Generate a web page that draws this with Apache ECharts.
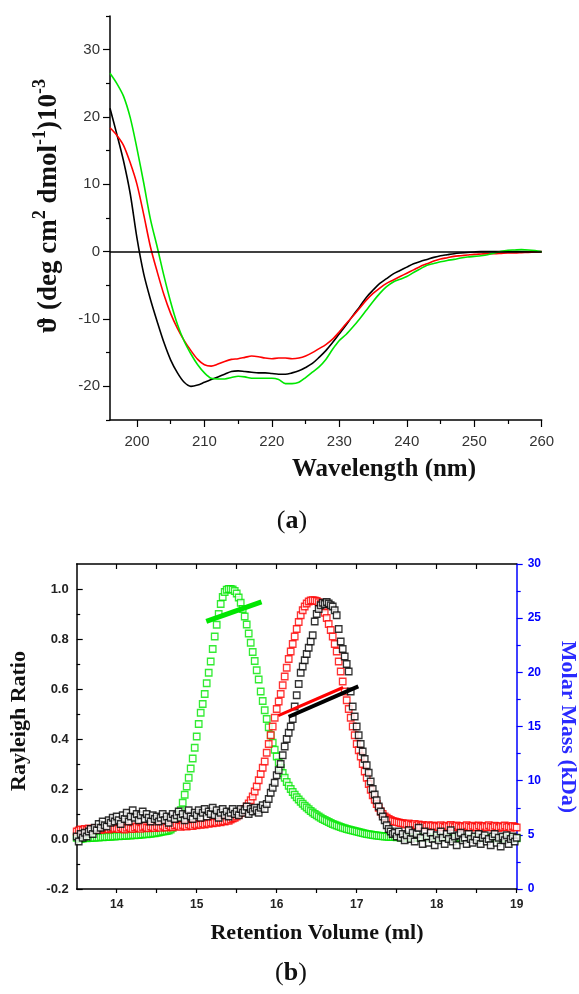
<!DOCTYPE html>
<html>
<head>
<meta charset="utf-8">
<script src="https://cdn.jsdelivr.net/npm/echarts@6.0.0/dist/echarts.min.js"></script>
<style>
  html, body { margin: 0; padding: 0; background: #fff; }
  #chart { width: 579px; height: 994px; }
</style>
</head>
<body>
<div id="chart"></div>
<script>
// ---------- (a) CD spectra: ellipticity (x10^-3) vs wavelength ----------
const wavelength = [196,197,198,199,200,201,202,203,204,205,206,207,208,209,210,211,212,213,214,215,
  216,217,218,219,220,221,222,223,224,225,226,227,228,229,230,231,232,233,234,235,
  236,237,238,239,240,241,242,243,244,245,246,247,248,249,250,251,252,253,254,255,
  256,257,258,259,260];

const cdBlack = [21.3,17.5,13.5,8.6,2.0,-3.3,-7.1,-10.4,-13.5,-16.1,-18.0,-19.4,-20.0,-19.8,-19.4,-19.0,-18.6,-18.2,-17.8,-17.7,
  -17.8,-17.9,-18.0,-18.0,-18.1,-18.2,-18.2,-18.0,-17.7,-17.2,-16.6,-15.7,-14.7,-13.5,-12.2,-10.9,-9.5,-8.2,-6.8,-5.7,
  -4.7,-4.0,-3.3,-2.8,-2.3,-1.8,-1.45,-1.15,-0.85,-0.6,-0.45,-0.3,-0.2,-0.12,-0.05,0,0,0,0,0,
  0,0,0,0,0];

const cdRed = [18.4,17.3,15.8,13.2,10.0,5.5,0.7,-3.0,-6.4,-9.2,-11.4,-13.2,-14.7,-16.0,-16.8,-17.0,-16.7,-16.3,-16.0,-15.9,
  -15.7,-15.5,-15.6,-15.8,-15.9,-15.8,-15.8,-15.9,-15.8,-15.5,-15.0,-14.4,-13.8,-13.0,-11.9,-10.7,-9.6,-8.4,-7.2,-6.2,
  -5.4,-4.7,-4.2,-3.7,-3.2,-2.7,-2.2,-1.8,-1.4,-1.1,-0.9,-0.7,-0.6,-0.5,-0.4,-0.35,-0.3,-0.3,-0.25,-0.2,
  -0.2,-0.15,-0.1,-0.05,0];

const cdGreen = [26.5,25.0,23.1,19.9,15.3,10.2,4.8,0.7,-3.6,-7.5,-10.8,-13.3,-15.2,-16.8,-18.0,-18.8,-18.9,-18.9,-18.7,-18.5,
  -18.6,-18.8,-18.8,-18.8,-18.8,-19.0,-19.6,-19.6,-19.4,-18.7,-17.9,-17.1,-16.0,-14.5,-13.2,-12.3,-11.2,-10.0,-8.7,-7.4,
  -6.2,-5.2,-4.5,-4.1,-3.7,-3.1,-2.55,-2.0,-1.75,-1.5,-1.3,-1.15,-0.95,-0.8,-0.7,-0.6,-0.45,-0.2,0.05,0.2,
  0.25,0.3,0.25,0.15,0];

const cdTicks = [200,210,220,230,240,250,260];
const cdMinorTicks = [205,215,225,235,245,255];
const thetaTicks = [-20,-10,0,10,20,30];
const thetaMinorTicks = [-25,-15,-5,5,15,25,35];

// ---------- (b) SEC-MALS: Rayleigh ratio and molar mass vs retention volume ----------
const volume = [
  13.5,13.525,13.55,13.575,13.6,13.625,13.65,13.675,13.7,13.725,13.75,13.775,13.8,13.825,13.85,13.875,13.9,13.925,13.95,13.975,
  14,14.025,14.05,14.075,14.1,14.125,14.15,14.175,14.2,14.225,14.25,14.275,14.3,14.325,14.35,14.375,14.4,14.425,14.45,14.475,
  14.5,14.525,14.55,14.575,14.6,14.625,14.65,14.675,14.7,14.725,14.75,14.775,14.8,14.825,14.85,14.875,14.9,14.925,14.95,14.975,
  15,15.025,15.05,15.075,15.1,15.125,15.15,15.175,15.2,15.225,15.25,15.275,15.3,15.325,15.35,15.375,15.4,15.425,15.45,15.475,
  15.5,15.525,15.55,15.575,15.6,15.625,15.65,15.675,15.7,15.725,15.75,15.775,15.8,15.825,15.85,15.875,15.9,15.925,15.95,15.975,
  16,16.025,16.05,16.075,16.1,16.125,16.15,16.175,16.2,16.225,16.25,16.275,16.3,16.325,16.35,16.375,16.4,16.425,16.45,16.475,
  16.5,16.525,16.55,16.575,16.6,16.625,16.65,16.675,16.7,16.725,16.75,16.775,16.8,16.825,16.85,16.875,16.9,16.925,16.95,16.975,
  17,17.025,17.05,17.075,17.1,17.125,17.15,17.175,17.2,17.225,17.25,17.275,17.3,17.325,17.35,17.375,17.4,17.425,17.45,17.475,
  17.5,17.525,17.55,17.575,17.6,17.625,17.65,17.675,17.7,17.725,17.75,17.775,17.8,17.825,17.85,17.875,17.9,17.925,17.95,17.975,
  18,18.025,18.05,18.075,18.1,18.125,18.15,18.175,18.2,18.225,18.25,18.275,18.3,18.325,18.35,18.375,18.4,18.425,18.45,18.475,
  18.5,18.525,18.55,18.575,18.6,18.625,18.65,18.675,18.7,18.725,18.75,18.775,18.8,18.825,18.85,18.875,18.9,18.925,18.95,18.975,
  19];

const rayleighGreen = [
  0.005,0.003,0.000,0.002,0.004,0.003,0.005,0.004,0.006,0.005,0.007,0.006,0.008,0.007,0.009,0.008,0.010,0.009,0.011,0.010,
  0.012,0.011,0.013,0.012,0.014,0.013,0.015,0.014,0.016,0.015,0.017,0.016,0.018,0.018,0.020,0.019,0.021,0.021,0.023,0.023,
  0.025,0.026,0.028,0.030,0.031,0.032,0.034,0.038,0.045,0.055,0.070,0.090,0.115,0.145,0.177,0.210,0.245,0.282,0.322,0.365,
  0.410,0.460,0.505,0.540,0.580,0.623,0.665,0.710,0.760,0.810,0.857,0.900,0.940,0.968,0.988,0.997,1.000,1.000,0.998,0.992,
  0.982,0.966,0.945,0.920,0.890,0.858,0.822,0.785,0.748,0.712,0.675,0.638,0.590,0.552,0.515,0.480,0.447,0.415,0.385,0.357,
  0.330,0.306,0.284,0.264,0.245,0.228,0.213,0.200,0.188,0.177,0.167,0.158,0.149,0.141,0.133,0.126,0.119,0.112,0.106,0.100,
  0.095,0.090,0.085,0.080,0.076,0.072,0.068,0.064,0.060,0.057,0.054,0.051,0.048,0.045,0.043,0.040,0.038,0.036,0.034,0.032,
  0.030,0.028,0.026,0.024,0.022,0.020,0.019,0.018,0.016,0.015,0.014,0.013,0.012,0.011,0.010,0.010,0.009,0.009,0.008,0.008,
  0.007,0.008,0.007,0.006,0.007,0.006,0.006,0.007,0.006,0.005,0.006,0.005,0.006,0.005,0.005,0.006,0.005,0.004,0.005,0.005,
  0.004,0.005,0.004,0.005,0.004,0.004,0.005,0.004,0.003,0.004,0.004,0.003,0.004,0.005,0.004,0.003,0.004,0.004,0.003,0.004,
  0.003,0.004,0.003,0.004,0.005,0.004,0.003,0.004,0.003,0.003,0.004,0.003,0.004,0.003,0.003,0.004,0.003,0.004,0.003,0.004,
  0.003];

const rayleighRed = [
  0.030,0.034,0.038,0.035,0.040,0.036,0.042,0.038,0.035,0.041,0.044,0.039,0.036,0.043,0.040,0.045,0.038,0.042,0.046,0.041,
  0.044,0.040,0.047,0.042,0.038,0.045,0.049,0.043,0.040,0.046,0.050,0.044,0.041,0.048,0.052,0.045,0.043,0.050,0.047,0.044,
  0.051,0.048,0.045,0.053,0.049,0.046,0.055,0.050,0.047,0.054,0.057,0.051,0.049,0.056,0.053,0.050,0.058,0.054,0.052,0.059,
  0.055,0.060,0.057,0.062,0.058,0.064,0.061,0.066,0.063,0.068,0.065,0.070,0.067,0.072,0.070,0.075,0.073,0.078,0.082,0.085,
  0.090,0.097,0.105,0.112,0.120,0.130,0.142,0.155,0.170,0.190,0.210,0.235,0.260,0.285,0.310,0.345,0.380,0.415,0.450,0.485,
  0.520,0.550,0.580,0.615,0.650,0.685,0.720,0.750,0.780,0.810,0.840,0.868,0.895,0.915,0.930,0.942,0.950,0.954,0.955,0.954,
  0.952,0.947,0.940,0.925,0.905,0.884,0.860,0.836,0.810,0.780,0.750,0.710,0.670,0.630,0.590,0.555,0.520,0.485,0.450,0.415,
  0.380,0.355,0.330,0.300,0.270,0.245,0.220,0.197,0.175,0.157,0.140,0.125,0.110,0.100,0.090,0.085,0.080,0.076,0.072,0.070,
  0.068,0.066,0.064,0.063,0.061,0.058,0.062,0.057,0.055,0.060,0.054,0.058,0.052,0.056,0.053,0.050,0.055,0.051,0.054,0.049,
  0.052,0.048,0.055,0.050,0.046,0.053,0.049,0.056,0.051,0.047,0.054,0.050,0.045,0.052,0.048,0.055,0.050,0.046,0.053,0.049,
  0.047,0.054,0.050,0.045,0.052,0.048,0.055,0.049,0.046,0.053,0.050,0.044,0.051,0.048,0.054,0.047,0.050,0.045,0.052,0.048,
  0.046];

const rayleighBlack = [
  0.010,-0.010,0.020,0.005,0.025,0.010,0.030,0.040,0.020,0.045,0.035,0.060,0.045,0.070,0.055,0.050,0.075,0.065,0.085,0.070,
  0.090,0.075,0.060,0.095,0.080,0.105,0.070,0.090,0.115,0.085,0.100,0.075,0.095,0.110,0.080,0.100,0.085,0.070,0.095,0.080,
  0.090,0.070,0.085,0.100,0.075,0.090,0.065,0.085,0.100,0.080,0.095,0.110,0.085,0.100,0.075,0.095,0.115,0.090,0.080,0.105,
  0.095,0.115,0.085,0.105,0.120,0.090,0.110,0.100,0.125,0.095,0.115,0.085,0.105,0.120,0.095,0.110,0.090,0.105,0.120,0.100,
  0.110,0.095,0.120,0.105,0.115,0.130,0.100,0.120,0.110,0.125,0.115,0.105,0.125,0.135,0.120,0.140,0.160,0.185,0.205,0.225,
  0.255,0.275,0.300,0.335,0.370,0.400,0.425,0.450,0.480,0.530,0.575,0.620,0.665,0.690,0.715,0.740,0.765,0.790,0.815,0.870,
  0.900,0.920,0.935,0.945,0.940,0.948,0.942,0.935,0.930,0.915,0.895,0.840,0.790,0.760,0.730,0.700,0.670,0.590,0.530,0.490,
  0.450,0.415,0.380,0.350,0.320,0.295,0.265,0.230,0.200,0.178,0.155,0.130,0.110,0.090,0.075,0.055,0.040,0.030,0.020,0.025,
  0.010,0.030,0.005,0.020,-0.005,0.015,0.035,0.000,0.025,-0.010,0.020,0.045,0.005,-0.020,0.030,0.010,-0.015,0.025,0.000,-0.025,
  0.015,-0.005,0.030,0.005,-0.020,0.020,0.000,0.035,-0.010,0.010,-0.025,0.015,0.025,-0.005,0.005,-0.020,0.020,0.000,-0.015,0.010,
  -0.005,0.020,-0.020,0.005,0.015,-0.010,0.000,-0.025,0.010,0.020,-0.015,0.005,-0.030,0.010,-0.005,0.015,-0.020,0.000,0.010,-0.010,
  0.005];

// molar mass (kDa) across each elution peak
const massGreenVol = [15.12, 15.81];
const massGreen = [24.7, 26.5];
const massRedVol = [16.02, 16.83];
const massRed = [16.0, 18.6];
const massBlackVol = [16.15, 17.02];
const massBlack = [15.9, 18.7];

const volTicks = [14,15,16,17,18,19];
const volHalfTicks = [14,14.5,15,15.5,16,16.5,17,17.5,18,18.5,19];
const volTopTicks = [14,14.5,15,15.5,16,16.5,17,17.5,18,18.5];
const ratioTicks = [-0.2,0,0.2,0.4,0.6,0.8,1.0];
const ratioMinorTicks = [-0.1,0.1,0.3,0.5,0.7,0.9];
const massTicks = [0,5,10,15,20,25,30];
const massMinorTicks = [2.5,7.5,12.5,17.5,22.5,27.5];

// ---------- styling ----------
const GREEN = '#00e600';
const RED = '#ff0000';
const BLACK = '#000000';
const BLUE = '#0000ff';
const SANS = 'Liberation Sans, Arial, sans-serif';
const SERIF = 'Liberation Serif, Times New Roman, serif';

const zip = (xs, ys) => xs.map((x, i) => [x, ys[i]]);

function valueAxis(extra) {
  return Object.assign({
    type: 'value',
    scale: false,
    splitLine: { show: false },
    axisLine: { show: true, onZero: false, lineStyle: { color: BLACK, width: 1.5 } },
    axisTick: { show: true, lineStyle: { color: BLACK, width: 1.2 } },
    axisLabel: { show: false }
  }, extra);
}

function squares(name, values, color) {
  return {
    name: name, type: 'scatter', xAxisIndex: 2, yAxisIndex: 2,
    data: zip(volume, values), symbol: 'rect', symbolSize: 6.5,
    itemStyle: { color: '#ffffff', borderColor: color, borderWidth: 1.3 }
  };
}

const chart = echarts.init(document.getElementById('chart'), null, { renderer: 'canvas' });

const option = {
  animation: false,
  backgroundColor: '#ffffff',
  grid: [
    { left: 110, top: 16, width: 431.7, height: 404 },
    { left: 76.7, top: 564, width: 440, height: 325 }
  ],
  xAxis: [
    valueAxis({
      gridIndex: 0, min: 196, max: 260, position: 'bottom',
      axisTick: { show: true, length: 7, customValues: cdTicks, lineStyle: { color: BLACK, width: 1.2 } },
      axisLabel: { show: true, customValues: cdTicks, color: '#333', fontSize: 15, fontFamily: SANS, margin: 14 }
    }),
    valueAxis({
      gridIndex: 0, min: 196, max: 260, position: 'bottom',
      axisLine: { show: false, onZero: false },
      axisTick: { show: true, length: 4, customValues: cdMinorTicks, lineStyle: { color: BLACK, width: 1.2 } }
    }),
    valueAxis({
      gridIndex: 1, min: 13.5, max: 19, position: 'bottom',
      axisTick: { show: true, length: 4, customValues: volHalfTicks, lineStyle: { color: BLACK, width: 1.2 } },
      axisLabel: { show: true, customValues: volTicks, color: '#222', fontSize: 12, fontWeight: 'bold', fontFamily: SANS, margin: 10 }
    }),
    valueAxis({
      gridIndex: 1, min: 13.5, max: 19, position: 'top',
      axisTick: { show: true, inside: true, length: 5, customValues: volTopTicks, lineStyle: { color: BLACK, width: 1.2 } }
    })
  ],
  yAxis: [
    valueAxis({
      gridIndex: 0, min: -25, max: 35, position: 'left',
      axisTick: { show: true, length: 7, customValues: thetaTicks, lineStyle: { color: BLACK, width: 1.2 } },
      axisLabel: { show: true, customValues: thetaTicks, color: '#333', fontSize: 15, fontFamily: SANS, margin: 10 }
    }),
    valueAxis({
      gridIndex: 0, min: -25, max: 35, position: 'left',
      axisLine: { show: false, onZero: false },
      axisTick: { show: true, length: 4, customValues: thetaMinorTicks, lineStyle: { color: BLACK, width: 1.2 } }
    }),
    valueAxis({
      gridIndex: 1, min: -0.2, max: 1.1, position: 'left',
      axisTick: { show: true, inside: true, length: 6, customValues: ratioTicks, lineStyle: { color: BLACK, width: 1.2 } },
      axisLabel: { show: true, customValues: ratioTicks, formatter: v => v.toFixed(1), color: '#222', fontSize: 13, fontWeight: 'bold', fontFamily: SANS, margin: 8 }
    }),
    valueAxis({
      gridIndex: 1, min: -0.2, max: 1.1, position: 'left',
      axisLine: { show: false, onZero: false },
      axisTick: { show: true, inside: true, length: 3.5, customValues: ratioMinorTicks, lineStyle: { color: BLACK, width: 1.2 } }
    }),
    valueAxis({
      gridIndex: 1, min: 0, max: 30, position: 'right',
      axisLine: { show: true, onZero: false, lineStyle: { color: BLUE, width: 1.5 } },
      axisTick: { show: true, length: 6, customValues: massTicks, lineStyle: { color: BLUE, width: 1.2 } },
      axisLabel: { show: true, customValues: massTicks, color: BLUE, fontSize: 12, fontWeight: 'bold', fontFamily: SANS, margin: 11 }
    }),
    valueAxis({
      gridIndex: 1, min: 0, max: 30, position: 'right',
      axisLine: { show: false, onZero: false },
      axisTick: { show: true, length: 4, customValues: massMinorTicks, lineStyle: { color: BLUE, width: 1.2 } }
    })
  ],
  series: [
    {
      name: 'CD black', type: 'line', xAxisIndex: 0, yAxisIndex: 0,
      data: zip(wavelength, cdBlack), showSymbol: false, smooth: 0.3,
      lineStyle: { color: BLACK, width: 1.6 }, itemStyle: { color: BLACK },
      markLine: {
        silent: true, symbol: ['none', 'none'], label: { show: false },
        lineStyle: { color: BLACK, width: 1.5, type: 'solid' },
        data: [{ yAxis: 0 }]
      }
    },
    {
      name: 'CD red', type: 'line', xAxisIndex: 0, yAxisIndex: 0,
      data: zip(wavelength, cdRed), showSymbol: false, smooth: 0.3,
      lineStyle: { color: RED, width: 1.6 }, itemStyle: { color: RED }
    },
    {
      name: 'CD green', type: 'line', xAxisIndex: 0, yAxisIndex: 0,
      data: zip(wavelength, cdGreen), showSymbol: false, smooth: 0.3,
      lineStyle: { color: GREEN, width: 1.6 }, itemStyle: { color: GREEN }
    },
    squares('LS green', rayleighGreen, GREEN),
    squares('LS red', rayleighRed, RED),
    squares('LS black', rayleighBlack, BLACK),
    {
      name: 'Mass green', type: 'line', xAxisIndex: 2, yAxisIndex: 4, z: 5,
      data: zip(massGreenVol, massGreen), showSymbol: false,
      lineStyle: { color: GREEN, width: 5 }
    },
    {
      name: 'Mass red', type: 'line', xAxisIndex: 2, yAxisIndex: 4, z: 5,
      data: zip(massRedVol, massRed), showSymbol: false,
      lineStyle: { color: RED, width: 3 }
    },
    {
      name: 'Mass black', type: 'line', xAxisIndex: 2, yAxisIndex: 4, z: 5,
      data: zip(massBlackVol, massBlack), showSymbol: false,
      lineStyle: { color: BLACK, width: 4 }
    }
  ],
  graphic: [
    {
      type: 'text', x: 47, y: 206, rotation: Math.PI / 2,
      style: {
        text: '{n|ϑ (deg cm}{s|2}{n| dmol}{s|-1}{n|)10}{s|-3}',
        align: 'center', verticalAlign: 'middle',
        rich: {
          n: { fontSize: 27, fontWeight: 'bold', fontFamily: SERIF, fill: '#111', lineHeight: 32, verticalAlign: 'bottom' },
          s: { fontSize: 18, fontWeight: 'bold', fontFamily: SERIF, fill: '#111', lineHeight: 18, verticalAlign: 'top' }
        }
      }
    },
    {
      type: 'text', x: 384, y: 470,
      style: { text: 'Wavelength (nm)', fontSize: 25, fontWeight: 'bold', fontFamily: SERIF, fill: '#111', align: 'center', verticalAlign: 'middle' }
    },
    {
      type: 'text', x: 292, y: 521,
      style: {
        text: '{p|(}{b|a}{p|)}', align: 'center', verticalAlign: 'middle',
        rich: {
          p: { fontSize: 26, fontFamily: SERIF, fill: '#111' },
          b: { fontSize: 26, fontWeight: 'bold', fontFamily: SERIF, fill: '#111' }
        }
      }
    },
    {
      type: 'text', x: 19, y: 721, rotation: Math.PI / 2,
      style: { text: 'Rayleigh Ratio', fontSize: 22, fontWeight: 'bold', fontFamily: SERIF, fill: '#111', align: 'center', verticalAlign: 'middle' }
    },
    {
      type: 'text', x: 568, y: 727, rotation: -Math.PI / 2,
      style: { text: 'Molar Mass (kDa)', fontSize: 22, fontWeight: 'bold', fontFamily: SERIF, fill: '#2a2aff', align: 'center', verticalAlign: 'middle' }
    },
    {
      type: 'text', x: 317, y: 933,
      style: { text: 'Retention Volume (ml)', fontSize: 22, fontWeight: 'bold', fontFamily: SERIF, fill: '#111', align: 'center', verticalAlign: 'middle' }
    },
    {
      type: 'text', x: 291, y: 973,
      style: {
        text: '{p|(}{b|b}{p|)}', align: 'center', verticalAlign: 'middle',
        rich: {
          p: { fontSize: 26, fontFamily: SERIF, fill: '#111' },
          b: { fontSize: 26, fontWeight: 'bold', fontFamily: SERIF, fill: '#111' }
        }
      }
    }
  ]
};

chart.setOption(option);
</script>
</body>
</html>
